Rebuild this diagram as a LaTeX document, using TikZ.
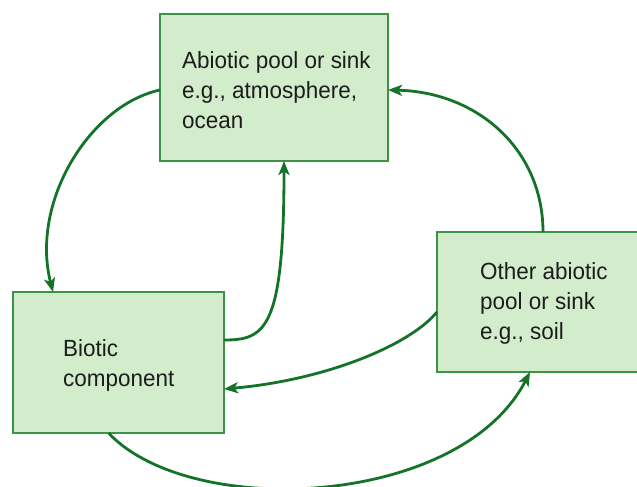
\documentclass[tikz,border=0pt]{standalone}
\usepackage{fontspec}
\setmainfont{Liberation Sans}[FakeStretch=0.96]
\usetikzlibrary{arrows.meta}
\definecolor{boxfill}{RGB}{210,236,204}
\definecolor{boxdraw}{RGB}{62,145,72}
\definecolor{arrowgreen}{RGB}{20,115,40}
\definecolor{txt}{RGB}{28,28,28}
\begin{document}
\begin{tikzpicture}[x=1pt,y=-1pt,
  box/.style={draw=boxdraw, fill=boxfill, line width=1.3pt, inner sep=0pt, outer sep=0pt},
  label/.style={anchor=north west, inner sep=0pt, align=left, text=txt,
    font=\fontsize{23.4}{30}\selectfont},
  flow/.style={draw=arrowgreen, line width=2.8pt, -{Stealth[length=14pt,width=11pt,inset=3.5pt]}}]
\useasboundingbox (0,0) rectangle (637,487);
\node[box, minimum width=228pt, minimum height=147pt] (top) at (274,87.5) {};
\node[box, minimum width=211pt, minimum height=141pt] (left) at (118.5,362.5) {};
\node[box, minimum width=210pt, minimum height=140pt] (right) at (542,302) {};
\node[label] (toptext) at (182,51) {Abiotic pool or sink\\e.g., atmosphere,\\ocean};
\node[label] (lefttext) at (63,339) {Biotic\\component};
\node[label] (righttext) at (480,262) {Other abiotic\\pool or sink\\e.g., soil};
\draw[flow] ([yshift=-2.5pt]top.west) .. controls +(-70,15) and +(-23,-90) .. ([xshift=-65.5pt]left.north);
\draw[flow] ([yshift=22.5pt]left.east) .. controls +(41,0) and +(0,169) .. ([xshift=10pt]top.south);
\draw[flow] ([xshift=1pt]right.north) .. controls +(0,-82) and +(90,2) .. ([yshift=-2.5pt]top.east);
\draw[flow] ([yshift=-10pt]right.west) .. controls +(-27,33) and +(102,-9) .. ([yshift=-26.5pt]left.east);
\draw[flow] ([xshift=-10pt]left.south) .. controls +(82,87) and +(-70,136) .. ([xshift=-12pt]right.south);
\end{tikzpicture}
\end{document}
